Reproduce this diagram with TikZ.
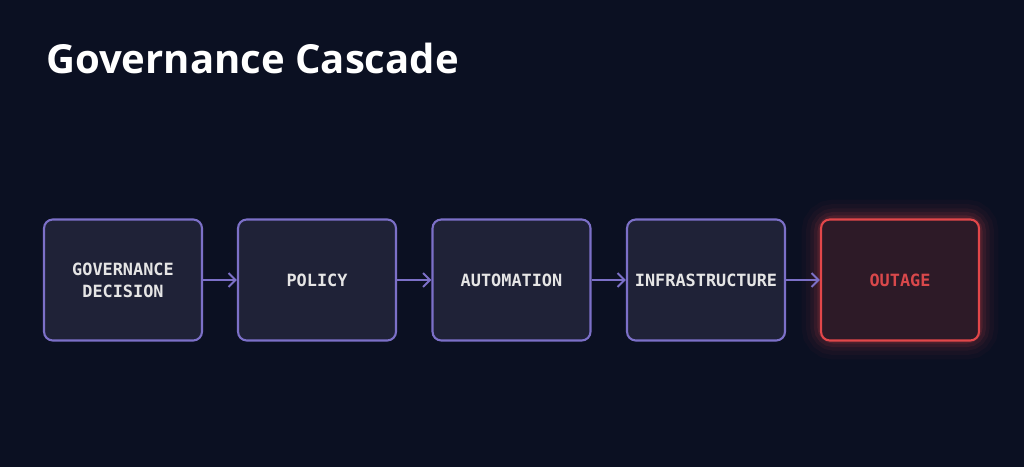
\documentclass[tikz,border=0pt]{standalone}
\usepackage{fontspec}
\setmainfont{Open Sans}
\newfontfamily\monofont{DejaVu Sans Mono}
\usetikzlibrary{arrows.meta}

\definecolor{bgnavy}{HTML}{0B1022}
\definecolor{boxfill}{HTML}{1F2237}
\definecolor{boxline}{HTML}{7C70C8}
\definecolor{alertline}{HTML}{E2474A}
\definecolor{alertfill}{HTML}{2D1A27}
\definecolor{alerttext}{HTML}{D9484B}

\tikzset{
    stage/.style = {draw = boxline, fill = boxfill, line width = 1.2pt, rounded corners = 5pt,
        minimum width = 3.16cm, minimum height = 2.42cm, align = center, text = white!90!black,
        font = \monofont\bfseries\fontsize{9.6}{12.6}\selectfont},
    alert/.style = {stage, draw = alertline, fill = alertfill, text = alerttext},
    flow/.style = {draw = boxline, line width = 1.1pt, -{Straight Barb[length = 4pt, width = 8pt]}}
}

\begin{document}
\begin{tikzpicture}[x = 0.02cm, y = 0.02cm]
        \fill[bgnavy] (0, 0) rectangle (1024, 467);
        \node[anchor = base west, text = white, font = \bfseries\fontsize{22.8}{28}\selectfont] (title) at (40, 393) {Governance Cascade};
        % glow round the last box
        \foreach \w/\o in {22/0.03, 17/0.04, 12/0.06, 8/0.09, 4/0.14} {
            \draw[alertline, line width = \w pt, opacity = \o, rounded corners = 7pt] (821, 127) rectangle (979, 248);
        }
        \node[stage] (decision) at (123, 187) {GOVERNANCE\\DECISION};
        \node[stage] (policy) at (317, 187) {POLICY};
        \node[stage] (automation) at (511.5, 187) {AUTOMATION};
        \node[stage] (infra) at (706, 187) {INFRASTRUCTURE};
        \node[alert] (outage) at (900, 187) {OUTAGE};
        \draw[flow] (decision) -- (policy);
        \draw[flow] (policy) -- (automation);
        \draw[flow] (automation) -- (infra);
        \draw[flow] (infra) -- (outage);
    \end{tikzpicture}
\end{document}
